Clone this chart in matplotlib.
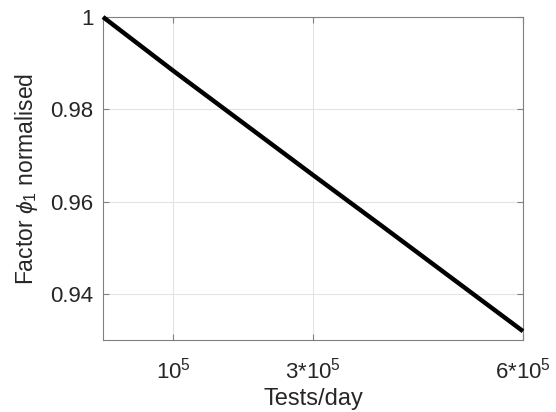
import matplotlib
matplotlib.use("Agg")
import matplotlib.pyplot as plt
from matplotlib.ticker import FixedLocator, FixedFormatter

plt.rcParams['font.family'] = ['Liberation Sans', 'DejaVu Sans']
plt.rcParams['mathtext.fontset'] = 'custom'
plt.rcParams['mathtext.rm'] = 'Liberation Sans'
plt.rcParams['mathtext.it'] = 'Liberation Sans:italic'

# Tests per day vs normalised factor phi_1
tests_per_day = [0, 1e5, 2e5, 3e5, 4e5, 5e5, 6e5]
phi1_normalised = [1.0, 0.9884, 0.9771, 0.9658, 0.9546, 0.9433, 0.932]

x_ticks = [1e5, 3e5, 6e5]
x_tick_labels = [r'$10^5$', r'$3$*$10^5$', r'$6$*$10^5$']
y_ticks = [0.94, 0.96, 0.98, 1.0]
y_tick_labels = ['0.94', '0.96', '0.98', '1']

fig = plt.figure(figsize=(5.56, 4.12), dpi=100)
ax = fig.add_axes([103/556, 1 - 340/412, (523-103)/556, (340-17)/412])

ax.plot(tests_per_day, phi1_normalised, color='black', linewidth=3.2,
        solid_capstyle='butt', clip_on=False, zorder=3)

ax.set_xlim(0, 6e5)
ax.set_ylim(0.9301, 1.0)
ax.xaxis.set_major_locator(FixedLocator(x_ticks))
ax.xaxis.set_major_formatter(FixedFormatter(x_tick_labels))
ax.yaxis.set_major_locator(FixedLocator(y_ticks))
ax.yaxis.set_major_formatter(FixedFormatter(y_tick_labels))

axis_col = '#808080'
for s in ax.spines.values():
    s.set_color(axis_col)
    s.set_linewidth(0.8)
ax.tick_params(direction='in', length=4, width=0.8, color=axis_col,
               labelcolor='#262626', labelsize=16, top=True, right=True)
ax.tick_params(axis='x', pad=13)
ax.tick_params(axis='y', pad=7)
ax.grid(True, color='#e3e3e3', linewidth=0.8)
ax.set_axisbelow(True)

ax.set_xlabel('Tests/day', fontsize=17, color='#262626', labelpad=3)
ax.set_ylabel(r'Factor $\phi_1$ normalised', fontsize=16.5, color='#262626',
              labelpad=7)

fig.savefig('out.png', dpi=100)
